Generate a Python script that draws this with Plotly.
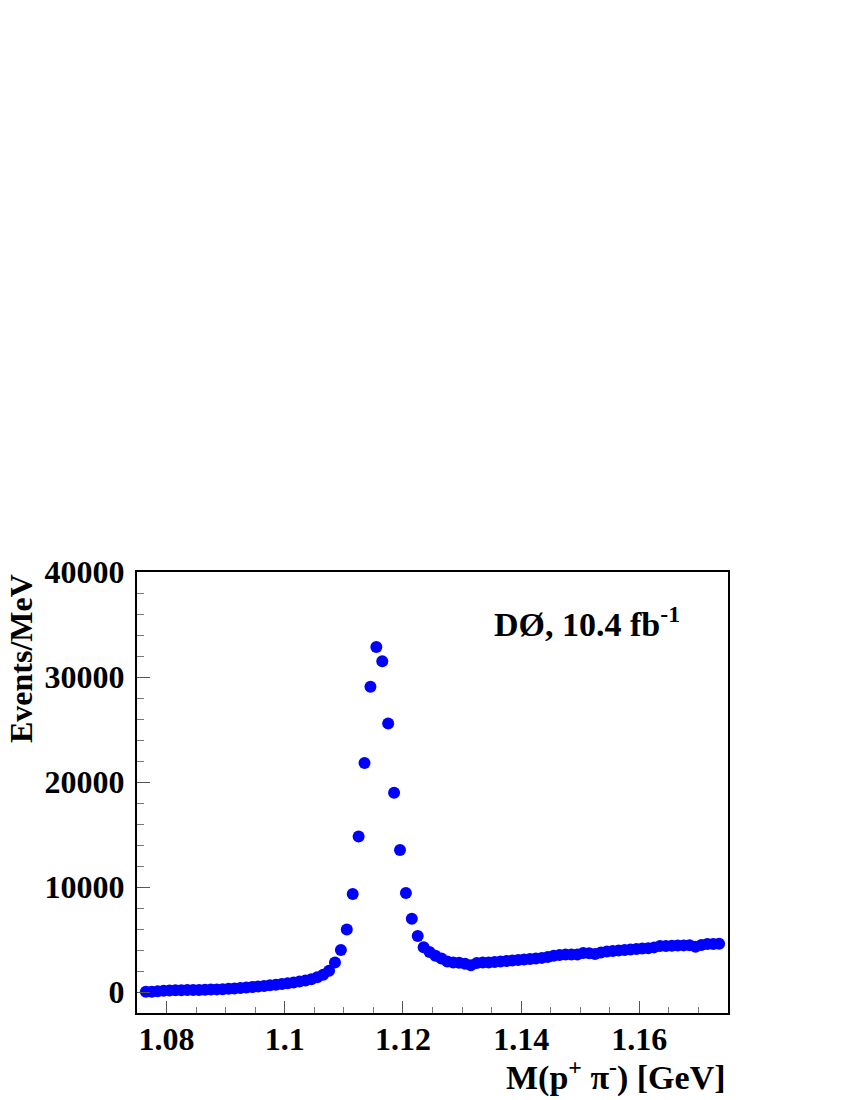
import plotly.graph_objects as go

# Bin centres of the invariant mass M(p+ pi-) [GeV]
mass = [
    1.0765, 1.0775, 1.0785, 1.0795, 1.0805, 1.0815, 1.0825, 1.0835, 1.0845, 1.0855,
    1.0865, 1.0875, 1.0885, 1.0895, 1.0905, 1.0915, 1.0925, 1.0935, 1.0945, 1.0955,
    1.0965, 1.0975, 1.0985, 1.0995, 1.1005, 1.1015, 1.1025, 1.1035, 1.1045, 1.1055,
    1.1065, 1.1075, 1.1085, 1.1095, 1.1105, 1.1115, 1.1125, 1.1135, 1.1145, 1.1155,
    1.1165, 1.1175, 1.1185, 1.1195, 1.1205, 1.1215, 1.1225, 1.1235, 1.1245, 1.1255,
    1.1265, 1.1275, 1.1285, 1.1295, 1.1305, 1.1315, 1.1325, 1.1335, 1.1345, 1.1355,
    1.1365, 1.1375, 1.1385, 1.1395, 1.1405, 1.1415, 1.1425, 1.1435, 1.1445, 1.1455,
    1.1465, 1.1475, 1.1485, 1.1495, 1.1505, 1.1515, 1.1525, 1.1535, 1.1545, 1.1555,
    1.1565, 1.1575, 1.1585, 1.1595, 1.1605, 1.1615, 1.1625, 1.1635, 1.1645, 1.1655,
    1.1665, 1.1675, 1.1685, 1.1695, 1.1705, 1.1715, 1.1725, 1.1735,
]

# Events per MeV
events = [
    30, 20, 80, 120, 150, 160, 170, 180, 190, 200,
    210, 230, 250, 270, 300, 340, 390, 430, 480, 530,
    580, 640, 700, 760, 830, 900, 990, 1090, 1210, 1400,
    1650, 2030, 2820, 4010, 5960, 9340, 14820, 21810, 29080, 32860,
    31490, 25580, 18980, 13520, 9430, 6980, 5340, 4270, 3800, 3450,
    3180, 2900, 2800, 2780, 2700, 2550, 2760, 2800, 2820, 2850,
    2900, 2950, 3000, 3050, 3100, 3150, 3200, 3250, 3330, 3450,
    3520, 3560, 3560, 3580, 3720, 3680, 3620, 3760, 3850, 3900,
    3950, 4000, 4050, 4100, 4150, 4170, 4250, 4380, 4390, 4400,
    4420, 4440, 4450, 4300, 4480, 4570, 4580, 4590,
]

x_tickvals = [1.08, 1.10, 1.12, 1.14, 1.16]
x_ticktext = ["1.08", "1.1", "1.12", "1.14", "1.16"]
y_tickvals = [0, 10000, 20000, 30000, 40000]
y_ticktext = ["0", "10000", "20000", "30000", "40000"]

FONT = "Liberation Serif"

fig = go.Figure()
fig.add_trace(go.Scatter(
    x=mass, y=events, mode="markers",
    marker=dict(color="#0000ff", size=12, line=dict(width=0)),
    showlegend=False,
))

fig.update_layout(
    width=850, height=1100,
    paper_bgcolor="white", plot_bgcolor="white",
    margin=dict(l=129, r=130, t=564, b=95),
    font=dict(family=FONT, color="black"),
    xaxis=dict(
        range=[1.075, 1.175],
        tickvals=x_tickvals, ticktext=x_ticktext,
        ticks="inside", ticklen=12, tickwidth=1, tickcolor="#555",
        minor=dict(dtick=0.005, tick0=1.075, ticks="inside", ticklen=6,
                   tickwidth=1, tickcolor="#777"),
        showline=True, linecolor="black", linewidth=2, mirror=True,
        showgrid=False, zeroline=False,
        tickfont=dict(family=FONT, size=32, color="black", weight="bold"),
        ticklabelstandoff=-3,
    ),
    yaxis=dict(
        range=[-2000, 40000],
        tickvals=y_tickvals, ticktext=y_ticktext,
        ticks="inside", ticklen=13, tickwidth=1, tickcolor="#555",
        minor=dict(dtick=2000, tick0=0, ticks="inside", ticklen=7,
                   tickwidth=1, tickcolor="#777"),
        showline=True, linecolor="black", linewidth=2, mirror=True,
        showgrid=False, zeroline=False,
        tickfont=dict(family=FONT, size=32, color="black", weight="bold"),
        ticklabelstandoff=4,
    ),
    annotations=[
        dict(text="<b>DØ, 10.4 fb<sup>-1</sup></b>", xref="paper", yref="paper",
             x=0.600, y=0.886, xanchor="left", yanchor="middle", showarrow=False,
             font=dict(family=FONT, size=34, color="black")),
        dict(text="<b>M(p<sup>+</sup> π<sup>-</sup>) [GeV]</b>", xref="paper", yref="paper",
             x=1.0, y=-0.142, xanchor="right", yanchor="middle", showarrow=False,
             font=dict(family=FONT, size=34, color="black")),
        dict(text="<b>Events/MeV</b>", xref="paper", yref="paper",
             x=-0.197, y=1.0, xanchor="center", yanchor="top", textangle=-90,
             showarrow=False, font=dict(family=FONT, size=32, color="black")),
    ],
)

fig.write_html("out.html")
